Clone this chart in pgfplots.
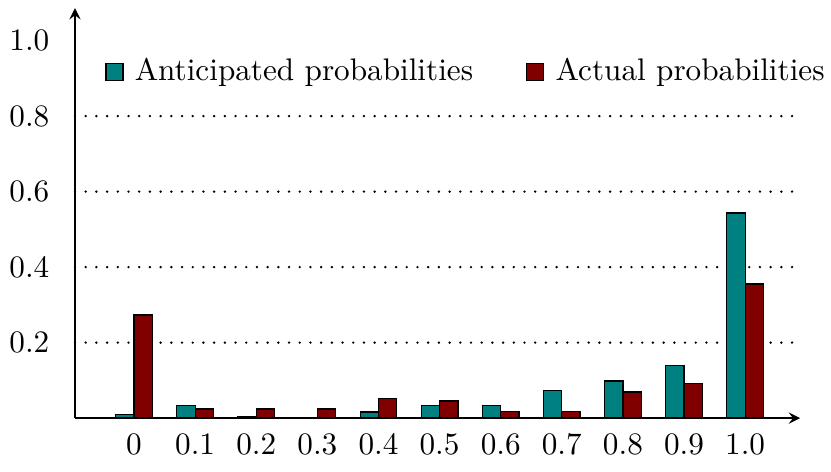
\documentclass[border=0pt]{standalone}
\usepackage{pgfplots}
\pgfplotsset{compat=1.18}
\definecolor{anti}{RGB}{0,128,128}
\definecolor{actu}{RGB}{128,0,0}
\begin{document}
\begin{tikzpicture}
\begin{axis}[
  at={(0pt,0pt)}, anchor=south west,
  scale only axis,
  width=232.4pt, height=131.4pt,
  axis lines=left,
  axis line style={line width=0.6pt,-stealth},
  xmin=-0.966, xmax=10.9,
  ymin=0, ymax=1.086,
  xtick={0,1,2,3,4,5,6,7,8,9,10},
  xticklabels={0,0.1,0.2,0.3,0.4,0.5,0.6,0.7,0.8,0.9,1.0},
  ytick={0.2,0.4,0.6,0.8},
  yticklabels={0.2,0.4,0.6,0.8},
  extra y ticks={1.0},
  extra y tick labels={1.0},
  extra y tick style={grid=none},
  ymajorgrids,
  major grid style={black, line width=0.85pt, line cap=round, dash pattern=on 0pt off 3.43pt},
  major tick length=0pt,
  yticklabel style={xshift=-4.7pt},
  xticklabel style={yshift=-1.5pt},
  ybar=0pt, bar width=5.87pt,
  legend style={at={(0.028,0.844)}, anchor=west, draw=none, fill=none,
    legend columns=2, column sep=0pt, font=\normalsize,
    /tikz/every even column/.append style={column sep=15pt}},
  legend image code/.code={\draw[#1, line width=0.4pt] (-2.5pt,-2.72pt) rectangle (2.95pt,2.72pt);
    \path (4.55pt,0pt);},
  clip=false,
]
\addplot[fill=anti, draw=black, line width=0.4pt] coordinates {
 (0,0.010) (1,0.034) (2,0.005) (3,0.0) (4,0.016) (5,0.034)
 (6,0.034) (7,0.074) (8,0.098) (9,0.140) (10,0.543)};
\addplot[fill=actu, draw=black, line width=0.4pt] coordinates {
 (0,0.273) (1,0.024) (2,0.024) (3,0.024) (4,0.052) (5,0.045)
 (6,0.017) (7,0.017) (8,0.069) (9,0.092) (10,0.355)};
\legend{Anticipated probabilities, Actual probabilities}
\end{axis}
\pgfresetboundingbox
\useasboundingbox (-24.04pt,-17.0pt) rectangle (242.3pt,134.0pt);
\end{tikzpicture}
\end{document}
